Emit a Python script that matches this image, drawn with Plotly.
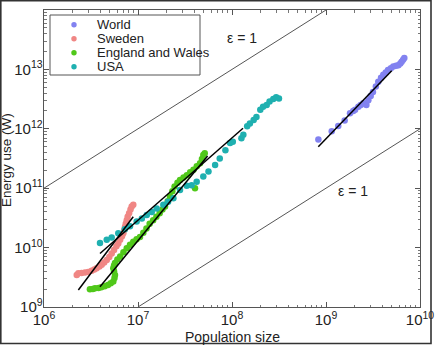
import plotly.graph_objects as go

# ---------------- data ----------------
world_pop = [8.3e8, 1.15e9, 1.35e9, 1.58e9, 1.80e9, 1.95e9, 2.04e9, 2.21e9, 2.34e9, 2.49e9,
             2.63e9, 2.69e9, 2.82e9, 2.99e9, 3.16e9, 3.39e9, 3.60e9, 3.85e9, 4.07e9, 4.32e9,
             4.57e9, 4.90e9, 5.20e9, 5.56e9, 5.89e9, 6.17e9, 6.38e9, 6.61e9, 6.81e9]
world_energy = [6.6e11, 9.1e11, 1.12e12, 1.38e12, 1.82e12, 2.0e12, 2.09e12, 2.34e12, 2.51e12, 2.69e12,
                2.63e12, 2.51e12, 3.02e12, 3.55e12, 4.17e12, 5.13e12, 6.17e12, 7.24e12, 8.13e12, 8.91e12,
                9.77e12, 1.05e13, 1.12e13, 1.15e13, 1.17e13, 1.26e13, 1.35e13, 1.45e13, 1.55e13]

sweden_pop = [2.23e6, 2.32e6, 2.51e6, 2.73e6, 2.95e6, 3.21e6, 3.43e6, 3.63e6, 3.89e6, 4.11e6,
              4.37e6, 4.65e6, 4.95e6, 5.25e6, 5.56e6, 5.89e6, 6.17e6, 6.46e6, 6.76e6, 6.98e6,
              7.16e6, 7.28e6, 7.41e6, 7.59e6, 7.76e6, 8.04e6, 8.32e6, 8.57e6, 8.91e6]
sweden_energy = [3.47e9, 3.69e9, 3.72e9, 3.80e9, 3.89e9, 4.07e9, 4.27e9, 4.47e9, 4.79e9, 5.13e9,
                 5.62e9, 6.17e9, 6.92e9, 7.94e9, 9.12e9, 1.05e10, 1.17e10, 1.35e10, 1.55e10, 1.74e10,
                 2.0e10, 2.24e10, 2.51e10, 2.88e10, 3.31e10, 3.80e10, 4.37e10, 4.90e10, 5.25e10]

england_pop = [3.08e6, 3.31e6, 3.49e6, 3.80e6, 4.07e6, 4.42e6, 4.79e6, 5.13e6, 5.46e6, 5.62e6,
               5.69e6, 5.56e6, 5.46e6, 5.56e6, 5.69e6, 6.03e6, 6.46e6, 7.0e6, 7.59e6, 8.22e6,
               8.91e6, 9.66e6, 1.05e7, 1.14e7, 1.23e7, 1.33e7, 1.45e7, 1.57e7, 1.70e7, 1.82e7,
               1.94e7, 2.07e7, 2.19e7, 2.32e7, 2.45e7, 2.63e7, 2.80e7, 3.05e7, 3.31e7, 3.59e7,
               3.89e7, 4.22e7, 4.57e7, 4.79e7, 4.95e7, 5.13e7, 4.04e7]
england_energy = [1.99e9, 2.0e9, 2.07e9, 2.09e9, 2.14e9, 2.24e9, 2.34e9, 2.51e9, 2.69e9, 3.09e9,
                  3.47e9, 3.98e9, 4.47e9, 5.01e9, 5.50e9, 6.31e9, 7.08e9, 8.32e9, 9.77e9, 1.12e10,
                  1.26e10, 1.38e10, 1.51e10, 1.78e10, 2.09e10, 2.51e10, 2.88e10, 3.31e10, 3.80e10, 4.37e10,
                  4.90e10, 6.03e10, 7.24e10, 8.91e10, 1.07e11, 1.23e11, 1.38e11, 1.51e11, 1.66e11, 1.86e11,
                  2.04e11, 2.34e11, 2.63e11, 3.09e11, 3.63e11, 3.89e11, 1.0e11]

usa_pop = [3.94e6, 4.65e6, 5.25e6, 6.17e6, 7.24e6, 8.22e6, 9.68e6, 1.10e7, 1.24e7, 1.40e7,
           1.58e7, 1.86e7, 2.09e7, 2.38e7, 2.80e7, 3.30e7, 3.72e7, 4.21e7, 4.95e7, 5.62e7,
           6.61e7, 7.41e7, 8.51e7, 9.55e7, 1.02e8, 1.26e8, 1.32e8, 1.45e8, 1.55e8, 1.70e8,
           1.82e8, 2.0e8, 2.14e8, 2.34e8, 2.51e8, 2.75e8, 2.95e8, 3.16e8]
usa_energy = [1.20e10, 1.35e10, 1.48e10, 1.74e10, 2.04e10, 2.29e10, 2.75e10, 3.09e10, 3.55e10, 3.98e10,
              4.57e10, 5.25e10, 5.89e10, 6.76e10, 9.33e10, 1.10e11, 1.12e11, 1.29e11, 1.58e11, 1.91e11,
              2.45e11, 3.16e11, 4.37e11, 5.75e11, 6.03e11, 6.92e11, 7.94e11, 1.10e12, 1.23e12, 1.41e12,
              1.58e12, 2.09e12, 2.34e12, 2.51e12, 2.88e12, 3.16e12, 3.39e12, 3.24e12]

# fitted power-law lines (endpoints)
sweden_fit_pop = [2.32e6, 8.9e6]
sweden_fit_energy = [1.93e9, 3.31e10]
england_fit_pop = [3.94e6, 5.5e7]
england_fit_energy = [2.2e9, 3.47e11]
usa_fit_pop = [3.94e6, 1.31e8]
usa_fit_energy = [7.94e9, 1.02e12]
world_fit_pop = [8.28e8, 5.0e9]
world_fit_energy = [5.0e11, 9.5e12]

# epsilon = 1 reference lines
eps_upper_pop = [1e6, 1e9]
eps_upper_energy = [1e11, 1e14]
eps_lower_pop = [1e7, 1e10]
eps_lower_energy = [1e9, 1e12]

series_names = ["World", "Sweden", "England and Wales", "USA"]
series_colors = ["#8282f0", "#f08684", "#50c81a", "#1fb0b0"]

# ---------------- layout geometry (pixels) ----------------
W, H = 436, 346
L, R, T, B = 44, 420, 10, 307
FONT = "Liberation Sans, Arial, sans-serif"


def px(x):
    return (x - L) / (R - L)


def py(y):
    return (B - y) / (B - T)


fig = go.Figure()

# epsilon lines
for xs, ys in [(eps_upper_pop, eps_upper_energy), (eps_lower_pop, eps_lower_energy)]:
    fig.add_trace(go.Scatter(x=xs, y=ys, mode="lines", line=dict(color="#555555", width=1),
                             showlegend=False, hoverinfo="skip"))

data = [(world_pop, world_energy), (sweden_pop, sweden_energy),
        (england_pop, england_energy), (usa_pop, usa_energy)]
for (xs, ys), name, col in zip(data, series_names, series_colors):
    fig.add_trace(go.Scatter(x=xs, y=ys, mode="markers", name=name,
                             marker=dict(color=col, size=6.5, line=dict(width=0)),
                             showlegend=False))

for xs, ys in [(sweden_fit_pop, sweden_fit_energy), (england_fit_pop, england_fit_energy),
               (usa_fit_pop, usa_fit_energy), (world_fit_pop, world_fit_energy)]:
    fig.add_trace(go.Scatter(x=xs, y=ys, mode="lines", line=dict(color="black", width=1.5),
                             showlegend=False, hoverinfo="skip"))

axis_common = dict(
    type="log", dtick=1, exponentformat="power", showexponent="all",
    showline=True, linecolor="#555555", linewidth=1, mirror="allticks",
    ticks="inside", ticklen=5, tickcolor="#555555", tickwidth=1,
    minor=dict(ticks="inside", ticklen=2.5, tickcolor="#777777", showgrid=False),
    showgrid=False, zeroline=False,
    tickfont=dict(family=FONT, size=12, color="#222222"),
)

fig.update_xaxes(range=[6, 10], **axis_common)
fig.update_yaxes(range=[9, 14], ticklabelstandoff=-2, **axis_common)

shapes = []
annotations = []

# outer frame of the figure
shapes.append(dict(type="rect", xref="paper", yref="paper",
                   x0=px(0.8), x1=px(431), y0=py(343.5), y1=py(0.8),
                   line=dict(color="#333333", width=1.6)))

# legend box
shapes.append(dict(type="rect", xref="paper", yref="paper",
                   x0=px(50), x1=px(200), y0=py(75), y1=py(15),
                   line=dict(color="#555555", width=1), fillcolor="white", layer="above"))
rows = [24.7, 38.7, 52.7, 66.7]
for yrow, name, col in zip(rows, series_names, series_colors):
    shapes.append(dict(type="circle", xref="paper", yref="paper",
                       xsizemode="pixel", ysizemode="pixel",
                       xanchor=px(74), yanchor=py(yrow),
                       x0=-2.7, x1=2.7, y0=-2.7, y1=2.7,
                       fillcolor=col, line=dict(width=0), layer="above"))
    annotations.append(dict(xref="paper", yref="paper", x=px(95), y=py(yrow),
                            text=name, showarrow=False, xanchor="left", yanchor="middle",
                            font=dict(family=FONT, size=13, color="#222222")))

# epsilon labels
annotations.append(dict(xref="paper", yref="paper", x=px(242), y=py(38), text="ε = 1",
                        showarrow=False, xanchor="center", yanchor="middle",
                        font=dict(family=FONT, size=14, color="#222222")))
annotations.append(dict(xref="paper", yref="paper", x=px(353), y=py(191), text="ε = 1",
                        showarrow=False, xanchor="center", yanchor="middle",
                        font=dict(family=FONT, size=14, color="#222222")))

# axis titles
annotations.append(dict(xref="paper", yref="paper", x=px(232), y=py(337), text="Population size",
                        showarrow=False, xanchor="center", yanchor="middle",
                        font=dict(family=FONT, size=14, color="#222222")))
annotations.append(dict(xref="paper", yref="paper", x=px(7), y=py(160), text="Energy use (W)",
                        showarrow=False, xanchor="center", yanchor="middle", textangle=-90,
                        font=dict(family=FONT, size=13.5, color="#222222")))

fig.update_layout(
    width=W, height=H,
    margin=dict(l=L, r=W - R, t=T, b=H - B, autoexpand=False),
    paper_bgcolor="white", plot_bgcolor="white",
    showlegend=False,
    shapes=shapes, annotations=annotations,
)

fig.write_html("out.html")
